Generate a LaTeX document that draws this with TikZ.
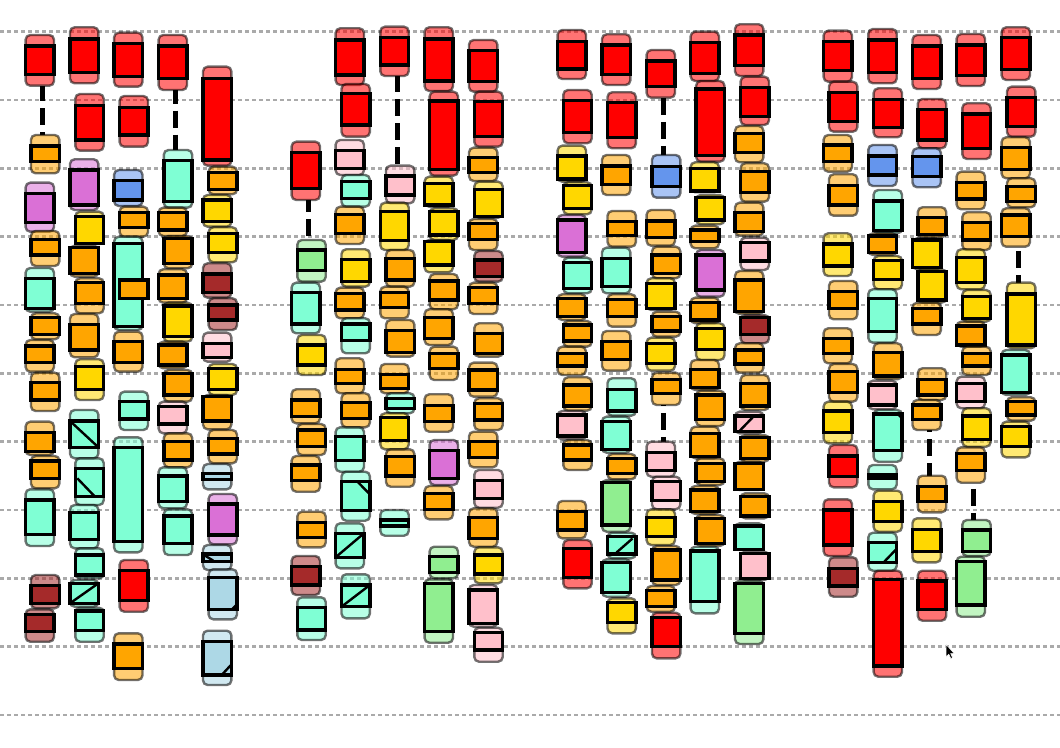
\documentclass[tikz,border=0pt]{standalone}
\definecolor{cRed}{HTML}{FF0000}
\definecolor{cOra}{HTML}{FFA500}
\definecolor{cGold}{HTML}{FFD700}
\definecolor{cAqua}{HTML}{7FFFD4}
\definecolor{cOrch}{HTML}{DA70D6}
\definecolor{cCorn}{HTML}{6495ED}
\definecolor{cBrown}{HTML}{A52A2A}
\definecolor{cPink}{HTML}{FFC0CB}
\definecolor{cLGreen}{HTML}{90EE90}
\definecolor{cLBlue}{HTML}{ADD8E6}
\definecolor{cGrid}{HTML}{AAAAAA}
\tikzset{
  gout/.style={draw=black, draw opacity=0.55, fill opacity=0.55, line width=1.8pt, rounded corners=3.5pt},
  gin/.style={draw=black, line width=2.6pt},
  dg/.style={draw=black, line width=1.8pt},
  conn/.style={draw=black, line width=3.6pt, dash pattern=on 12.75pt off 5.25pt},
  grid/.style={draw=cGrid, line width=2.2pt, dash pattern=on 3pt off 2.25pt}
}
\newcommand\gb[6]{%
  \path[gout,fill=#6] ({#1-14.2},#2) rectangle ({#1+14.2},#3);
  \path[gin,fill=#6] ({#1-14.2},#4) rectangle ({#1+14.2},#5);}
\begin{document}
\begin{tikzpicture}[x=0.75pt,y=-0.75pt]
\path[fill=white] (0,0) rectangle (1060,748);
\useasboundingbox (0,0) rectangle (1060,748);
% grid lines
\foreach \k in {0,...,10}{
  \path[grid] (0,{31.7+68.33*\k}) -- (1060,{31.7+68.33*\k});
}
% dashed connectors (from the lower edge of one glyph to the upper edge of the next)
\coordinate (c1a) at (42.5,85.7);   \coordinate (c1b) at (42.5,135);
\coordinate (c2a) at (175.4,90);    \coordinate (c2b) at (175.4,150);
\coordinate (c3a) at (308.7,200);   \coordinate (c3b) at (308.7,240);
\coordinate (c4a) at (397.3,76);    \coordinate (c4b) at (397.3,165.7);
\coordinate (c5a) at (663.5,97.7);  \coordinate (c5b) at (663.5,155);
\coordinate (c6a) at (663.5,405);   \coordinate (c6b) at (663.5,441.7);
\coordinate (c7a) at (929.4,430);   \coordinate (c7b) at (929.4,475.7);
\coordinate (c8a) at (973.7,482.7); \coordinate (c8b) at (973.7,520);
\coordinate (c9a) at (1018.5,246.7);\coordinate (c9b) at (1018.5,282.7);
\path[conn,dash phase=18.98pt] (c1a) -- (c1b);
\path[conn,dash phase=20.6pt]  (c2a) -- (c2b);
\path[conn,dash phase=21.8pt]  (c3a) -- (c3b);
\path[conn,dash phase=18.45pt] (c4a) -- (c4b);
\path[conn,dash phase=17.85pt] (c5a) -- (c5b);
\path[conn,dash phase=12.1pt]  (c6a) -- (c6b);
\path[conn,dash phase=11.25pt] (c7a) -- (c7b);
\path[conn,dash phase=13.3pt]  (c8a) -- (c8b);
\path[conn,dash phase=14.4pt]  (c9a) -- (c9b);
% ===== group 1 =====
% col 1
\gb{39.8}{35}{85.7}{46}{74.3}{cRed}
\gb{45.2}{135}{173.3}{146}{161.7}{cOra}
\gb{39.8}{182.7}{231.7}{193.3}{222.7}{cOrch}
\gb{45.2}{231}{266}{239.3}{255}{cOra}
\gb{39.8}{268}{311.7}{278.3}{308.3}{cAqua}
\gb{45.2}{313.3}{339.3}{317.7}{334.3}{cOra}
\gb{39.8}{340}{371.7}{346}{362.3}{cOra}
\gb{45.2}{372.7}{411}{382.3}{400}{cOra}
\gb{39.8}{421.7}{455}{432.3}{451.7}{cOra}
\gb{45.2}{456}{488.3}{461}{478.3}{cOra}
\gb{39.8}{489.3}{546}{500}{534.3}{cAqua}
\gb{45.2}{575}{608.3}{585.3}{603.3}{cBrown}
\gb{39.8}{609.3}{641.7}{614.3}{631.7}{cBrown}
% col 2
\gb{84.2}{27.3}{83.3}{39}{72.7}{cRed}
\gb{89.5}{94}{150.7}{105.7}{140}{cRed}
\gb{84.2}{159.3}{210}{170}{205}{cOrch}
\gb{89.5}{211.7}{244}{216.7}{243.3}{cGold}
\gb{84.2}{245.7}{276.7}{247.7}{273.3}{cOra}
\gb{89.5}{278.3}{313.3}{282.7}{303.3}{cOra}
\gb{84.2}{314}{357.3}{324.3}{350}{cOra}
\gb{89.5}{359.3}{400}{366.7}{389.3}{cGold}
\gb{84.2}{410}{458.3}{421}{447.3}{cAqua}
\path[dg] (70,421) -- (98.4,447.3);
\gb{89.5}{458.3}{505}{468.3}{496.7}{cAqua}
\path[dg] (77.3,478.3) -- (95,496.7);
\gb{84.2}{505}{548.3}{512.7}{539.3}{cAqua}
\gb{89.5}{548.3}{578.3}{555}{575}{cAqua}
\gb{84.2}{580}{606.7}{583.3}{603.3}{cAqua}
\path[dg] (70,603.3) -- (98.4,583.3);
\gb{89.5}{607.7}{641.7}{611}{630.7}{cAqua}
% col 3
\gb{128.3}{32.7}{86.7}{43.3}{76.7}{cRed}
\gb{133.8}{96}{146.7}{107.3}{135}{cRed}
\gb{128.3}{170}{206}{180.7}{200}{cCorn}
\gb{133.8}{206.7}{236.7}{212.3}{227.3}{cOra}
\gb{128.3}{236.7}{330}{243.3}{326.7}{cAqua}
\path[gin,fill=cOra] (119.6,280) rectangle (148,298.3);
\gb{128.3}{331.7}{371.7}{341.7}{362.3}{cOra}
\gb{133.8}{391.7}{430}{401.7}{419}{cAqua}
\gb{128.3}{437.3}{552.3}{447.3}{541.7}{cAqua}
\gb{133.8}{560}{611.7}{570.7}{600.7}{cRed}
\gb{128.3}{633.3}{680}{644}{668.3}{cOra}
% col 4
\gb{172.8}{35}{90}{46}{78.3}{cRed}
\gb{178}{150}{207.7}{160.7}{201.7}{cAqua}
\gb{172.8}{207.7}{236}{212.3}{230}{cOra}
\gb{178}{236}{268.3}{238.3}{263.3}{cOra}
\gb{172.8}{269.3}{302.7}{275}{298.3}{cOra}
\gb{178}{302.7}{341.7}{306}{336.7}{cGold}
\gb{172.8}{341.7}{368.3}{345}{365}{cOra}
\gb{178}{370}{401.7}{373.3}{395}{cOra}
\gb{172.8}{401.7}{433.3}{406.7}{424}{cPink}
\gb{178}{433.3}{467.3}{441.7}{460}{cOra}
\gb{172.8}{467.3}{508.3}{476}{501.7}{cAqua}
\gb{178}{509.3}{555}{516}{543.3}{cAqua}
% col 5
\gb{217.2}{66.7}{165.7}{78.3}{160}{cRed}
\gb{222.8}{166.7}{194.3}{172.7}{189.3}{cOra}
\gb{217.2}{195}{226.7}{200}{221.7}{cGold}
\gb{222.8}{227.3}{262.3}{233.3}{252.3}{cGold}
\gb{217.2}{263.3}{297.7}{274}{292.3}{cBrown}
\gb{222.8}{298.3}{330}{305}{320}{cBrown}
\gb{217.2}{332.7}{361.7}{343.3}{357.3}{cPink}
\gb{222.8}{364}{395}{368.3}{389.3}{cGold}
\gb{217.2}{395}{429.3}{396.7}{421}{cOra}
\gb{222.8}{430}{463.3}{438.3}{454}{cOra}
\gb{217.2}{464}{489.3}{473.3}{479.3}{cLBlue}
\gb{222.8}{494}{544.3}{504}{535}{cOrch}
\gb{217.2}{545}{570}{554}{561.7}{cLBlue}
\path[dg] (204,555) -- (213.3,560.7);
\gb{222.8}{569.3}{619.3}{577.7}{609.3}{cLBlue}
\path[fill=black] (237,602.5) -- (237,609.3) -- (230.5,609.3) -- cycle;
\gb{217.2}{630.7}{685}{641.7}{675}{cLBlue}
\path[dg] (221.7,675) -- (231.4,664.5);
% ===== group 2 =====
% col 1
\gb{305.8}{141.7}{200}{152.7}{188.3}{cRed}
\gb{311.5}{240}{281.7}{250}{270.7}{cLGreen}
\gb{305.8}{282.7}{333.3}{292.7}{324}{cAqua}
\gb{311.5}{335}{375}{345}{365}{cGold}
\gb{305.8}{389.3}{423.3}{400}{416.7}{cOra}
\gb{311.5}{424}{455}{430}{446.7}{cOra}
\gb{305.8}{456}{491.7}{465}{480.7}{cOra}
\gb{311.5}{511.7}{547.3}{522.7}{537.3}{cOra}
\gb{305.8}{556}{595}{566.7}{585}{cBrown}
\gb{311.5}{597.3}{640}{607.7}{630}{cAqua}
% col 2
\gb{349.8}{28.3}{85}{40}{75}{cRed}
\gb{355.7}{84}{136.7}{93.3}{125}{cRed}
\gb{349.8}{140}{175}{150.7}{168.3}{cPink}
\gb{355.7}{175}{206.7}{181.7}{198.3}{cAqua}
\gb{349.8}{206.7}{244}{214.3}{233.3}{cOra}
\gb{355.7}{249.3}{286.7}{259.3}{281.7}{cGold}
\gb{349.8}{287.7}{318.3}{293.3}{310}{cOra}
\gb{355.7}{318.3}{353.3}{324}{340.7}{cAqua}
\gb{349.8}{358.3}{393.3}{369.3}{383.3}{cOra}
\gb{355.7}{393.3}{427.3}{402.3}{418.3}{cOra}
\gb{349.8}{427.3}{471.7}{436.7}{460.7}{cAqua}
\gb{355.7}{471.7}{520.7}{481.7}{510.7}{cAqua}
\path[dg] (357.5,481.7) -- (369.5,494);
\gb{349.8}{523.3}{568.3}{533.3}{557.3}{cAqua}
\path[dg] (335.6,557.3) -- (364,533.3);
\gb{355.7}{574.3}{618.3}{585}{606.7}{cAqua}
\path[dg] (341.5,606.7) -- (369.9,585);
% col 3
\gb{394.5}{26.7}{76}{37.3}{65}{cRed}
\gb{400.2}{165.7}{203.3}{176}{195}{cPink}
\gb{394.5}{202.7}{250}{211.7}{240.7}{cGold}
\gb{400.2}{250}{286.7}{258.7}{280}{cOra}
\gb{394.5}{286.7}{318.3}{292.7}{307.3}{cOra}
\gb{400.2}{320}{356.7}{330.7}{352.7}{cOra}
\gb{394.5}{364}{393.3}{374.3}{388.3}{cOra}
\gb{400.2}{393.3}{413.3}{398.3}{408.3}{cAqua}
\gb{394.5}{413.3}{449.3}{417.7}{440.7}{cGold}
\gb{400.2}{449.3}{486.7}{456.7}{476}{cOra}
\gb{394.5}{510}{535.7}{520}{526}{cAqua}
% col 4
\gb{438.8}{27.3}{91}{39}{81}{cRed}
\gb{443.8}{91.7}{175.7}{101}{169.3}{cRed}
\gb{438.8}{176.7}{206.7}{183.3}{205}{cGold}
\gb{443.8}{208.3}{240}{211.7}{235}{cGold}
\gb{438.8}{240}{272.3}{241.7}{265}{cGold}
\gb{443.8}{274}{309.3}{281}{300}{cOra}
\gb{438.8}{309.3}{345}{317.3}{338.3}{cOra}
\gb{443.8}{346.7}{380}{353.3}{368.3}{cOra}
\gb{438.8}{394.3}{431.7}{405.7}{421.7}{cOra}
\gb{443.8}{440}{485}{450.7}{478.3}{cOrch}
\gb{438.8}{486}{519.3}{493.3}{509.3}{cOra}
\gb{443.8}{546.7}{578.3}{556.7}{572.7}{cLGreen}
\gb{438.8}{579.3}{642.7}{583.3}{631.7}{cLGreen}
% col 5
\gb{483.2}{40}{91.7}{50.7}{81.7}{cRed}
\gb{488.5}{91.7}{146.7}{101.7}{136.7}{cRed}
\gb{483.2}{147.7}{181}{157.7}{172.7}{cOra}
\gb{488.5}{181.7}{217.7}{189.3}{216.7}{cGold}
\gb{483.2}{219}{250}{223.3}{239.3}{cOra}
\gb{488.5}{251}{281.7}{260}{276.7}{cBrown}
\gb{483.2}{282.7}{314}{287.7}{303.3}{cOra}
\gb{488.5}{323.3}{356.7}{333.3}{353.3}{cOra}
\gb{483.2}{362.7}{396.7}{370}{390}{cOra}
\gb{488.5}{398.3}{430}{403.3}{420}{cOra}
\gb{483.2}{431.7}{467.3}{441.7}{457.3}{cOra}
\gb{488.5}{470}{507.7}{480.7}{498.3}{cPink}
\gb{483.2}{508.3}{546.7}{517.3}{538.3}{cOra}
\gb{488.5}{547.3}{583.3}{555}{574}{cGold}
\gb{483.2}{585}{626.7}{590}{623.3}{cPink}
\gb{488.5}{627.7}{661.7}{632.3}{650}{cPink}
% ===== group 3 =====
% col 1
\gb{571.8}{30}{79}{41.7}{69}{cRed}
\gb{577.5}{90}{143.3}{100.7}{132.3}{cRed}
\gb{571.8}{145.7}{181.7}{156}{179}{cGold}
\gb{577.5}{182.3}{214.3}{185.7}{208.3}{cGold}
\gb{571.8}{215}{256.7}{220}{252.3}{cOrch}
\gb{577.5}{257.7}{293.3}{262.7}{288.3}{cAqua}
\gb{571.8}{294.3}{320}{298.3}{316.7}{cOra}
\gb{577.5}{321}{346.7}{325}{341}{cOra}
\gb{571.8}{346.7}{375}{353.3}{366}{cOra}
\gb{577.5}{377.3}{410.7}{385}{406}{cOra}
\gb{571.8}{411}{439.3}{415}{436}{cPink}
\gb{577.5}{440}{470}{445}{460}{cOra}
\gb{571.8}{501}{538.3}{511.7}{530}{cOra}
\gb{577.5}{540}{588.3}{548.3}{577.7}{cRed}
% col 2
\gb{616.2}{34.3}{85}{45}{74.3}{cRed}
\gb{621.7}{92.3}{148.3}{102.3}{137.7}{cRed}
\gb{616.2}{155}{195}{166}{184.3}{cOra}
\gb{621.7}{211}{246.7}{221.7}{235.7}{cOra}
\gb{616.2}{247.7}{293.3}{258.3}{286.7}{cAqua}
\gb{621.7}{294.3}{326.7}{299.3}{316.7}{cOra}
\gb{616.2}{331}{370.7}{341.7}{359.3}{cOra}
\gb{621.7}{378.3}{415.7}{389.3}{411}{cAqua}
\gb{616.2}{416.7}{452.7}{421.7}{449.3}{cAqua}
\gb{621.7}{454}{479.3}{458.3}{473.3}{cOra}
\gb{616.2}{480}{531.7}{482.7}{525}{cLGreen}
\gb{621.7}{532.7}{558.3}{536.7}{554}{cAqua}
\path[dg] (616.5,552.5) -- (632.5,538.5);
\gb{616.2}{559.3}{596.7}{562.7}{592.7}{cAqua}
\gb{621.7}{598.3}{633.3}{602.7}{622.7}{cGold}
% col 3
\gb{660.8}{50}{97.7}{61}{86.7}{cRed}
\gb{666.2}{155}{197.7}{166.7}{186.7}{cCorn}
\gb{660.8}{210}{245.7}{221}{237.7}{cOra}
\gb{666.2}{246.7}{278.3}{255}{273.3}{cOra}
\gb{660.8}{278.3}{310}{283.3}{308.3}{cGold}
\gb{666.2}{311.7}{336.7}{316.7}{331}{cOra}
\gb{660.8}{337.7}{370.7}{343.3}{363.3}{cGold}
\gb{666.2}{372.7}{405}{379.3}{393.3}{cOra}
\gb{660.8}{441.7}{476.7}{452.7}{470.7}{cPink}
\gb{666.2}{476.7}{509.3}{481.7}{500.7}{cPink}
\gb{660.8}{509.3}{545}{517.7}{536.7}{cGold}
\gb{666.2}{546}{585}{550}{580}{cOra}
\gb{660.8}{586}{611.7}{590.7}{606.7}{cOra}
\gb{666.2}{612.7}{658.3}{617.7}{646.7}{cRed}
% col 4
\gb{704.8}{31.7}{81}{42.7}{73.3}{cRed}
\gb{710.3}{81}{161.7}{89}{155.7}{cRed}
\gb{704.8}{162.3}{192.3}{168.3}{191}{cGold}
\gb{710.3}{195}{224.3}{197.7}{220}{cGold}
\gb{704.8}{225.7}{248.3}{230}{241.7}{cOra}
\gb{710.3}{250}{296.7}{255}{290}{cOrch}
\gb{704.8}{297.7}{323.3}{302.3}{320}{cOra}
\gb{710.3}{323.3}{360}{328.3}{349.3}{cGold}
\gb{704.8}{360}{390}{369.3}{387.3}{cOra}
\gb{710.3}{390.7}{426}{395}{419.3}{cOra}
\gb{704.8}{426.7}{458.3}{433.3}{456.7}{cOra}
\gb{710.3}{458.3}{485}{463.3}{481.7}{cOra}
\gb{704.8}{486}{514}{490}{511.7}{cOra}
\gb{710.3}{515}{546}{518.3}{543.3}{cOra}
\gb{704.8}{546.7}{613.3}{551}{601.7}{cAqua}
% col 5
\gb{749.2}{24.3}{76}{35}{65.7}{cRed}
\gb{754.8}{76.7}{125}{87.7}{116.7}{cRed}
\gb{749.2}{126}{162.3}{133.3}{152.7}{cOra}
\gb{754.8}{163.3}{201.7}{171.7}{192.7}{cOra}
\gb{749.2}{202.7}{235.7}{212.3}{231.7}{cOra}
\gb{754.8}{237.7}{270}{242.7}{261}{cPink}
\gb{749.2}{271}{314}{280}{311.7}{cOra}
\gb{754.8}{315}{343.3}{317.7}{334.3}{cBrown}
\gb{749.2}{343.3}{372.7}{350}{364}{cOra}
\gb{754.8}{375}{410}{383.3}{406}{cOra}
\gb{749.2}{411.7}{433.3}{416}{431.7}{cPink}
\path[dg] (739.5,431) -- (753.5,416.5);
\gb{754.8}{435}{461.7}{437.7}{458.3}{cOra}
\gb{749.2}{461.7}{490}{463.3}{489.3}{cOra}
\gb{754.8}{493.3}{518.3}{496.7}{516}{cOra}
\gb{749.2}{523.3}{550}{526}{549.3}{cAqua}
\gb{754.8}{551.7}{580}{553.3}{578.3}{cPink}
\gb{749.2}{580.7}{644}{583.3}{633.3}{cLGreen}
% ===== group 4 =====
% col 1
\gb{837.8}{30.7}{81.7}{41.7}{70.7}{cRed}
\gb{843.2}{81.7}{131.7}{92.7}{121.7}{cRed}
\gb{837.8}{135}{171.7}{145}{161.7}{cOra}
\gb{843.2}{174.3}{215.7}{185.7}{205}{cOra}
\gb{837.8}{233.3}{276}{244}{266}{cGold}
\gb{843.2}{281}{319.3}{291.7}{308.3}{cOra}
\gb{837.8}{328.3}{363.3}{338.3}{353.3}{cOra}
\gb{843.2}{364}{401.7}{371.7}{392.7}{cOra}
\gb{837.8}{401.7}{443.3}{411}{432.7}{cGold}
\gb{843.2}{445}{487.3}{456}{476.7}{cRed}
\gb{837.8}{499.3}{556}{510}{545}{cRed}
\gb{843.2}{557.3}{596.7}{568.3}{586}{cBrown}
% col 2
\gb{882.5}{29}{83.3}{40}{72.7}{cRed}
\gb{887.8}{88.3}{137.3}{99.3}{127.3}{cRed}
\gb{882.5}{145}{186}{156}{175}{cCorn}
\gb{887.8}{190}{233.3}{201}{230.7}{cAqua}
\gb{882.5}{233.3}{255}{236}{252.7}{cOra}
\gb{887.8}{256}{289.3}{260.7}{279.3}{cGold}
\gb{882.5}{289.3}{342.7}{298.3}{331.7}{cAqua}
\gb{887.8}{343.3}{379.3}{352.7}{376}{cOra}
\gb{882.5}{380.7}{409.3}{385}{405}{cPink}
\gb{887.8}{410}{461.7}{414}{450.7}{cAqua}
\path[fill=black] (896,414) -- (902,414) -- (902,420) -- cycle;
\gb{882.5}{465}{489.3}{475}{478.3}{cAqua}
\gb{887.8}{490.7}{531.7}{501.7}{521.7}{cGold}
\gb{882.5}{532.7}{570.7}{542.7}{562.7}{cAqua}
\path[dg] (884,562) -- (896,549.5);
\gb{887.8}{570.7}{676.7}{579.3}{666}{cRed}
% col 3
\gb{926.7}{35}{89}{46}{78.3}{cRed}
\gb{932}{99}{148.3}{109.3}{140}{cRed}
\gb{926.7}{148.3}{187.3}{156.7}{176.7}{cCorn}
\gb{932}{207.3}{237.3}{217.3}{234.3}{cOra}
\gb{926.7}{238.3}{269.3}{240}{267.3}{cGold}
\gb{932}{269.3}{302.7}{271.7}{300}{cGold}
\gb{926.7}{302.7}{335}{308.3}{324}{cOra}
\gb{932}{368.3}{400}{379.3}{395}{cOra}
\gb{926.7}{400}{430}{405}{419.3}{cOra}
\gb{932}{475.7}{512.3}{486.7}{501.7}{cOra}
\gb{926.7}{518.3}{562.3}{529.3}{551.7}{cGold}
\gb{932}{570.7}{620.7}{581}{609.3}{cRed}
% col 4
\gb{970.8}{34}{86}{45}{75.7}{cRed}
\gb{976.5}{103.3}{159}{114}{148.3}{cRed}
\gb{970.8}{171.7}{209.3}{182.3}{199}{cOra}
\gb{976.5}{212.3}{250}{222.3}{240}{cOra}
\gb{970.8}{249.3}{289.3}{257.7}{282.7}{cGold}
\gb{976.5}{290}{321.7}{296.7}{318.3}{cGold}
\gb{970.8}{321.7}{346.7}{326}{345}{cOra}
\gb{976.5}{346.7}{375}{353.3}{366}{cOra}
\gb{970.8}{376.7}{408.3}{383.3}{401.7}{cPink}
\gb{976.5}{408.3}{446.7}{416}{439.3}{cGold}
\gb{970.8}{447.3}{482.7}{453.3}{470.7}{cOra}
\gb{976.5}{520}{556}{530}{551.7}{cLGreen}
\gb{970.8}{556.7}{616.7}{561.7}{605}{cLGreen}
% col 5
\gb{1015.8}{27.3}{80}{37.3}{69.3}{cRed}
\gb{1021.2}{86.7}{136.7}{97.3}{126.7}{cRed}
\gb{1015.8}{137.3}{178.3}{147.7}{169.3}{cOra}
\gb{1021.2}{178.3}{207.3}{186.7}{201.7}{cOra}
\gb{1015.8}{208.3}{246.7}{215}{236.7}{cOra}
\gb{1021.2}{282.7}{348.3}{294}{345}{cGold}
\gb{1015.8}{350}{395}{355}{392.7}{cAqua}
\gb{1021.2}{397.3}{420.7}{401.7}{415}{cOra}
\gb{1015.8}{421.7}{457.3}{426.7}{446.7}{cGold}
% mouse cursor
\path[fill=black,draw=white,line width=0.4pt] (946,644.3) -- (946,657) -- (948.8,654.3) -- (950.8,658.5) -- (952.6,657.7) -- (950.6,653.6) -- (954.3,653.6) -- cycle;
\end{tikzpicture}
\end{document}
